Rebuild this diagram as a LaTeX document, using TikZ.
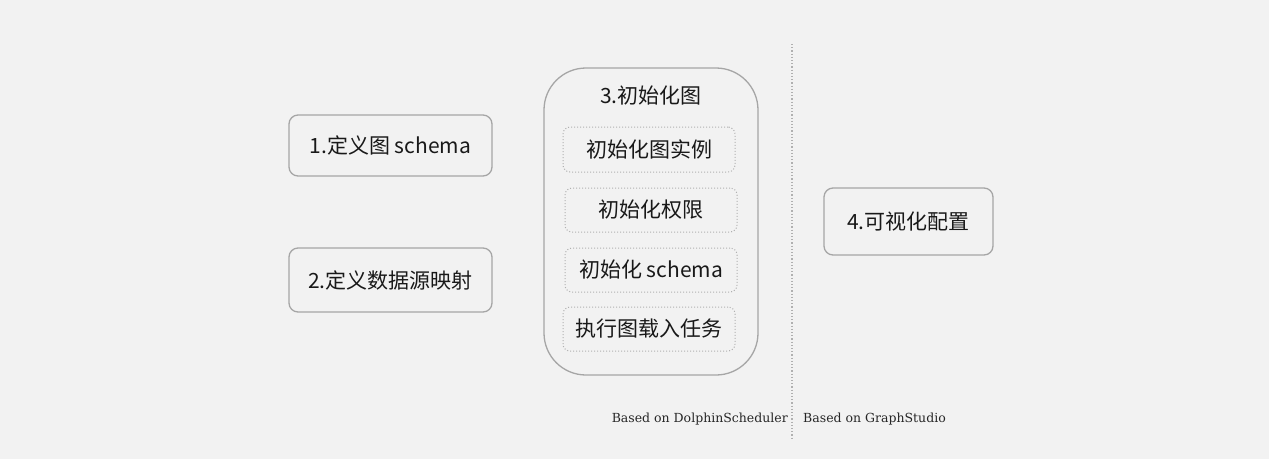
\documentclass[tikz,border=0pt]{standalone}
\usepackage{fontspec}
\newfontfamily\cjk{Noto Sans CJK SC}
\newfontfamily\slab{DejaVu Serif}
\definecolor{bg}{HTML}{F2F2F2}
\definecolor{bd}{HTML}{A6A6A6}
\definecolor{dt}{HTML}{B0B0B0}
\begin{document}
\begin{tikzpicture}[x=1pt,y=-1pt,
  stage/.style={draw=bd,line width=1.3pt,rounded corners=9pt,fill=bg,font=\cjk\fontsize{21}{25}\selectfont,text=black!90,inner sep=0pt},
  sub/.style={draw=dt,line width=1pt,dotted,rounded corners=7pt,fill=bg,font=\cjk\fontsize{21}{25}\selectfont,text=black!90,inner sep=0pt},
  note/.style={font=\slab\fontsize{12.5}{15}\selectfont,text=black!85,inner sep=0pt}]
\fill[bg] (0,0) rectangle (1269,459);
\useasboundingbox (0,0) rectangle (1269,459);
\node[stage,minimum width=203pt,minimum height=61pt] (s1) at (390.5,145.5) {1.定义图 schema};
\node[stage,minimum width=203pt,minimum height=64pt] (s2) at (390.5,280) {2.定义数据源映射};
\node[draw=bd,line width=1.3pt,rounded corners=42pt,minimum width=214pt,minimum height=307pt,inner sep=0pt] (s3) at (651,221.5) {};
\node[font=\cjk\fontsize{21}{25}\selectfont,text=black!90,inner sep=0pt] (t3) at (651,96) {3.初始化图};
\node[sub,minimum width=172pt,minimum height=45pt] (a) at (649,149.5) {初始化图实例};
\node[sub,minimum width=172pt,minimum height=44pt] (b) at (651,210) {初始化权限};
\node[sub,minimum width=172pt,minimum height=44pt] (c) at (651,270) {初始化 schema};
\node[sub,minimum width=172pt,minimum height=44pt] (d) at (649,329) {执行图载入任务};
\node[stage,minimum width=169pt,minimum height=67pt] (s4) at (908.5,221.5) {4.可视化配置};
\coordinate (top) at (792,44);
\coordinate (bot) at (792,440);
\draw[dt,line width=1.2pt,dotted] (top) -- (bot);
\node[note,anchor=east] (n1) at (788,419) {Based on DolphinScheduler};
\node[note,anchor=west] (n2) at (803,419) {Based on GraphStudio};
\end{tikzpicture}
\end{document}
